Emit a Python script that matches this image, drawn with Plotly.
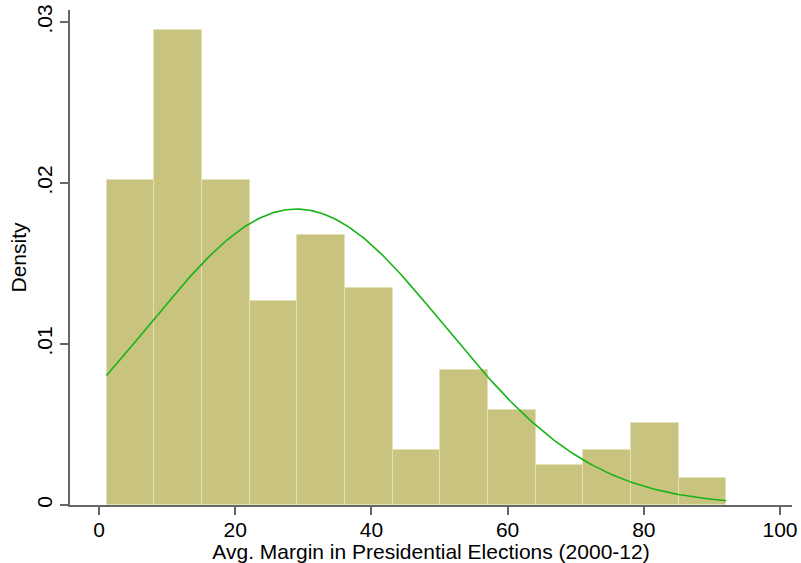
import numpy as np
import plotly.graph_objects as go

# Histogram data (density per bin)
bin_start = 1.1
bin_width = 7.0
densities = [0.0202, 0.0295, 0.0202, 0.0127, 0.0168, 0.0135, 0.0034,
             0.0084, 0.0059, 0.0025, 0.0034, 0.0051, 0.0017]

# Normal density overlay parameters
norm_mean = 29.0
norm_sd = 21.7

x_ticks = [0, 20, 40, 60, 80, 100]
y_ticks = [0, 0.01, 0.02, 0.03]
y_ticklabels = ["0", ".01", ".02", ".03"]

n = len(densities)
centers = [bin_start + bin_width * (i + 0.5) for i in range(n)]
x_end = bin_start + bin_width * n
xs = np.linspace(bin_start, x_end, 300)
ys = np.exp(-0.5 * ((xs - norm_mean) / norm_sd) ** 2) / (norm_sd * np.sqrt(2 * np.pi))

FONT = "Liberation Sans, Arial, Helvetica, sans-serif"

fig = go.Figure()
fig.add_trace(go.Bar(
    x=centers, y=densities, width=bin_width,
    marker=dict(color="#C9C380", line=dict(color="#E4E0B6", width=1)),
    showlegend=False, hoverinfo="x+y",
))
fig.add_trace(go.Scatter(
    x=xs, y=ys, mode="lines",
    line=dict(color="#17B317", width=1.6),
    showlegend=False,
))

fig.update_layout(
    width=801, height=563,
    margin=dict(l=70, r=9, t=10, b=58),
    plot_bgcolor="white", paper_bgcolor="white",
    bargap=0,
    font=dict(family=FONT, size=21, color="#000000"),
)
fig.update_xaxes(
    range=[-4.26, 101.76], tickvals=x_ticks,
    showgrid=False, zeroline=False,
    showline=True, linecolor="#666666", linewidth=2,
    ticks="outside", ticklen=8, tickcolor="#666666", tickwidth=2,
    tickfont=dict(size=21), ticklabelstandoff=-3,
    title=dict(text="Avg. Margin in Presidential Elections (2000-12)",
               font=dict(size=21), standoff=1),
    automargin=False,
)
fig.update_yaxes(
    range=[0, 0.03075], tickvals=y_ticks, ticktext=y_ticklabels,
    tickangle=-90,
    showgrid=False, zeroline=False,
    showline=True, linecolor="#666666", linewidth=2,
    ticks="outside", ticklen=8, tickcolor="#666666", tickwidth=2,
    tickfont=dict(size=21),
    title=dict(text="Density", font=dict(size=21), standoff=0),
    automargin=False,
)

fig.write_html("out.html")
